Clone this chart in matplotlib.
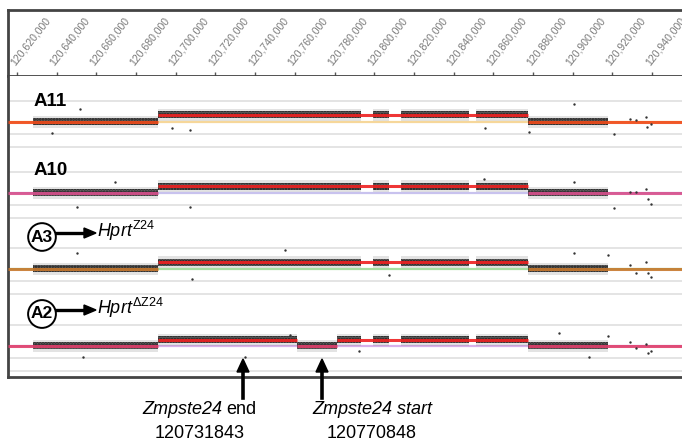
import matplotlib
matplotlib.use("Agg")
import matplotlib.pyplot as plt

plt.rcParams["font.family"] = ["Liberation Sans", "DejaVu Sans"]
plt.rcParams["mathtext.fontset"] = "custom"
plt.rcParams["mathtext.rm"] = "Liberation Sans"
plt.rcParams["mathtext.it"] = "Liberation Sans:italic"
plt.rcParams["hatch.linewidth"] = 1.2

W, H = 682, 441

# --- data -------------------------------------------------------------
TICKS = list(range(120620000, 120940001, 20000))

# probe clusters (same array for every sample)
CLOUD_START = [120628000, 120691000, 120799400, 120813500, 120851300]
CLOUD_END = [120691000, 120793300, 120807450, 120847750, 120917800]

# segmentation: breakpoints and log2 ratio for each segment
BREAKS_A11 = [120691000, 120877500]
LEVELS_A11 = [0, 0.62, 0]
BREAKS_A10 = [120691000, 120877500]
LEVELS_A10 = [0, 0.55, 0]
BREAKS_A3 = [120691000, 120877500]
LEVELS_A3 = [0, 0.55, 0]
BREAKS_A2 = [120691000, 120761000, 120781250, 120877500]
LEVELS_A2 = [0, 0.5, 0, 0.5, 0]

# scattered probes away from the clusters (position, log2 ratio)
OUT_POS_A11 = [120637600, 120651700, 120698100, 120707200, 120855800, 120878000,
               120900700, 120920800, 120928900, 120931900, 120936900, 120937500, 120939400]
OUT_LVL_A11 = [-0.9, 1.1, -0.5, -0.65, -0.5, -0.8, 1.5, -1.0, 0.25, 0.2, 0.4, -0.4, -0.2]
OUT_POS_A10 = [120650200, 120669400, 120707200, 120855300, 120900700, 120920800,
               120928900, 120931900, 120936900, 120937900, 120939400]
OUT_LVL_A10 = [-1.2, 0.9, -1.2, 1.2, 0.9, -1.25, 0.1, 0.1, 0.3, -0.5, -0.9]
OUT_POS_A3 = [120650200, 120708200, 120755000, 120807450, 120900700, 120917800,
              120928900, 120931900, 120936900, 120937900, 120939400]
OUT_LVL_A3 = [1.3, -0.8, 1.6, -0.5, 1.3, 1.2, 0.3, -0.3, 0.6, -0.3, -0.7]
OUT_POS_A2 = [120653300, 120734900, 120757600, 120792300, 120893100, 120908200,
              120917800, 120928900, 120931900, 120936900, 120938000, 120939400]
OUT_LVL_A2 = [-0.9, -0.9, 0.9, -0.4, 1.1, -0.9, 0.8, 0.3, -0.2, 0.2, -0.6, -0.4]

# --- layout -----------------------------------------------------------
TRACK_Y = [122, 193, 269, 346]          # pixel row of each track's zero line
PX_PER_LOG2 = 12
LOW_COLORS = ["#f04a1a", "#d8508c", "#c8782e", "#e0406c"]
BASE_COLORS = ["#f6d79a", "#c8c2ee", "#a6dca0", "#d8b0ea"]
HIGH_COLOR = "#ee2020"

X0 = 120620000 - 9 * 503.9
X1 = 120620000 + (W - 17) * 503.9


def fx(px):
    return px / W


def fy(py):
    return 1 - py / H


def segments(breaks, levels):
    edges = [X0] + breaks + [X1]
    return [(edges[i], edges[i + 1], levels[i]) for i in range(len(levels))]


def arrow_head(tip, base_a, base_b):
    fig.patches.append(plt.Polygon([base_a, tip, base_b], closed=True, color="black",
                                   transform=fig.transFigure, figure=fig))


fig = plt.figure(figsize=(W / 100, H / 100), dpi=100)
ruler = fig.add_axes([fx(8), fy(76), 1 - fx(8), fy(10) - fy(76)])
ax = fig.add_axes([fx(8), fy(377), 1 - fx(8), fy(76) - fy(377)])

for a in (ruler, ax):
    a.set_xlim(X0, X1)
    a.set_yticks([])
    a.spines["right"].set_visible(False)
    for s in a.spines.values():
        s.set_color("#444444")
        s.set_linewidth(2)
ruler.set_ylim(76, 10)
ax.set_ylim(377, 76)
ax.spines["top"].set_visible(False)
ruler.spines["bottom"].set_linewidth(1.3)

ruler.set_xticks(TICKS)
ruler.set_xticklabels([])
ruler.tick_params(axis="x", direction="in", length=3, width=1, color="#555555")
ax.set_xticks([])
for t in TICKS:
    ruler.text(t - 1200, 66, f"{t:,}", rotation=52, rotation_mode="anchor",
               ha="left", va="baseline", fontsize=7.6, color="#7a7a7a",
               clip_on=False)

tracks = [
    (BREAKS_A11, LEVELS_A11, OUT_POS_A11, OUT_LVL_A11),
    (BREAKS_A10, LEVELS_A10, OUT_POS_A10, OUT_LVL_A10),
    (BREAKS_A3, LEVELS_A3, OUT_POS_A3, OUT_LVL_A3),
    (BREAKS_A2, LEVELS_A2, OUT_POS_A2, OUT_LVL_A2),
]

for i, (breaks, levels, opos, olvl) in enumerate(tracks):
    yc = TRACK_Y[i]
    for off in (-21, 12, 25):
        ax.axhline(yc + off, color="#e2e2e2", lw=1.3, zorder=0)
    ax.axhline(yc, color=BASE_COLORS[i], lw=1.6, zorder=1)
    segs = segments(breaks, levels)
    # probe clouds, cut at segment breakpoints
    for cs, ce in zip(CLOUD_START, CLOUD_END):
        for s0, s1, lv in segs:
            a0, a1 = max(cs, s0), min(ce, s1)
            if a1 <= a0:
                continue
            y = yc - lv * PX_PER_LOG2
            ax.fill_between([a0, a1], y - 6, y + 6, facecolor="#808080", alpha=0.22,
                            lw=0, zorder=2)
            ax.fill_between([a0, a1], y - 3.5, y + 3.5, facecolor="#2e2e2e", alpha=0.72,
                            hatch="......", edgecolor="#000000", lw=0, zorder=3)
    for s0, s1, lv in segs:
        c = LOW_COLORS[i] if lv == 0 else HIGH_COLOR
        y = yc - lv * PX_PER_LOG2
        ax.plot([s0, s1], [y, y], color=c, lw=2.2, alpha=0.9, zorder=4,
                solid_capstyle="butt")
    ax.scatter(opos, [yc - v * PX_PER_LOG2 for v in olvl], s=3, c="#333333",
               lw=0, zorder=5)

# track labels
fig.text(fx(34), fy(106), "A11", fontsize=13.5, fontweight="bold", va="baseline")
fig.text(fx(34), fy(175), "A10", fontsize=13.5, fontweight="bold", va="baseline")

for name, cy, allele in [("A3", 237, r"$\mathit{Hprt}^{\mathrm{Z24}}$"),
                         ("A2", 314, r"$\mathit{Hprt}^{\mathrm{\Delta Z24}}$")]:
    fig.text(fx(42), fy(cy), name, fontsize=12.5, fontweight="bold",
             ha="center", va="center",
             bbox=dict(boxstyle="circle,pad=0.16", fc="white", ec="black", lw=1.4))
    fig.add_artist(plt.Line2D([fx(56), fx(86)], [fy(cy - 4), fy(cy - 4)],
                              color="black", lw=2.4))
    arrow_head((fx(96), fy(cy - 4)), (fx(84), fy(cy - 9)), (fx(84), fy(cy + 1)))
    fig.text(fx(97), fy(cy), allele, fontsize=13, va="baseline")

# gene boundary arrows
for ax_px in (243, 322):
    fig.add_artist(plt.Line2D([fx(ax_px), fx(ax_px)], [fy(398), fy(368)],
                              color="black", lw=2.6))
    arrow_head((fx(ax_px), fy(359)), (fx(ax_px - 6), fy(372)), (fx(ax_px + 6), fy(372)))

fig.text(fx(222), fy(414), "Zmpste24", fontsize=13, ha="right", va="baseline",
         style="italic")
fig.text(fx(226), fy(414), "end", fontsize=13, ha="left", va="baseline")
fig.text(fx(200), fy(438), "120731843", fontsize=13, ha="center", va="baseline")
fig.text(fx(372), fy(414), "Zmpste24 start", fontsize=13, ha="center", va="baseline",
         style="italic")
fig.text(fx(372), fy(438), "120770848", fontsize=13, ha="center", va="baseline")

fig.savefig("out.png", dpi=100, facecolor="white")
